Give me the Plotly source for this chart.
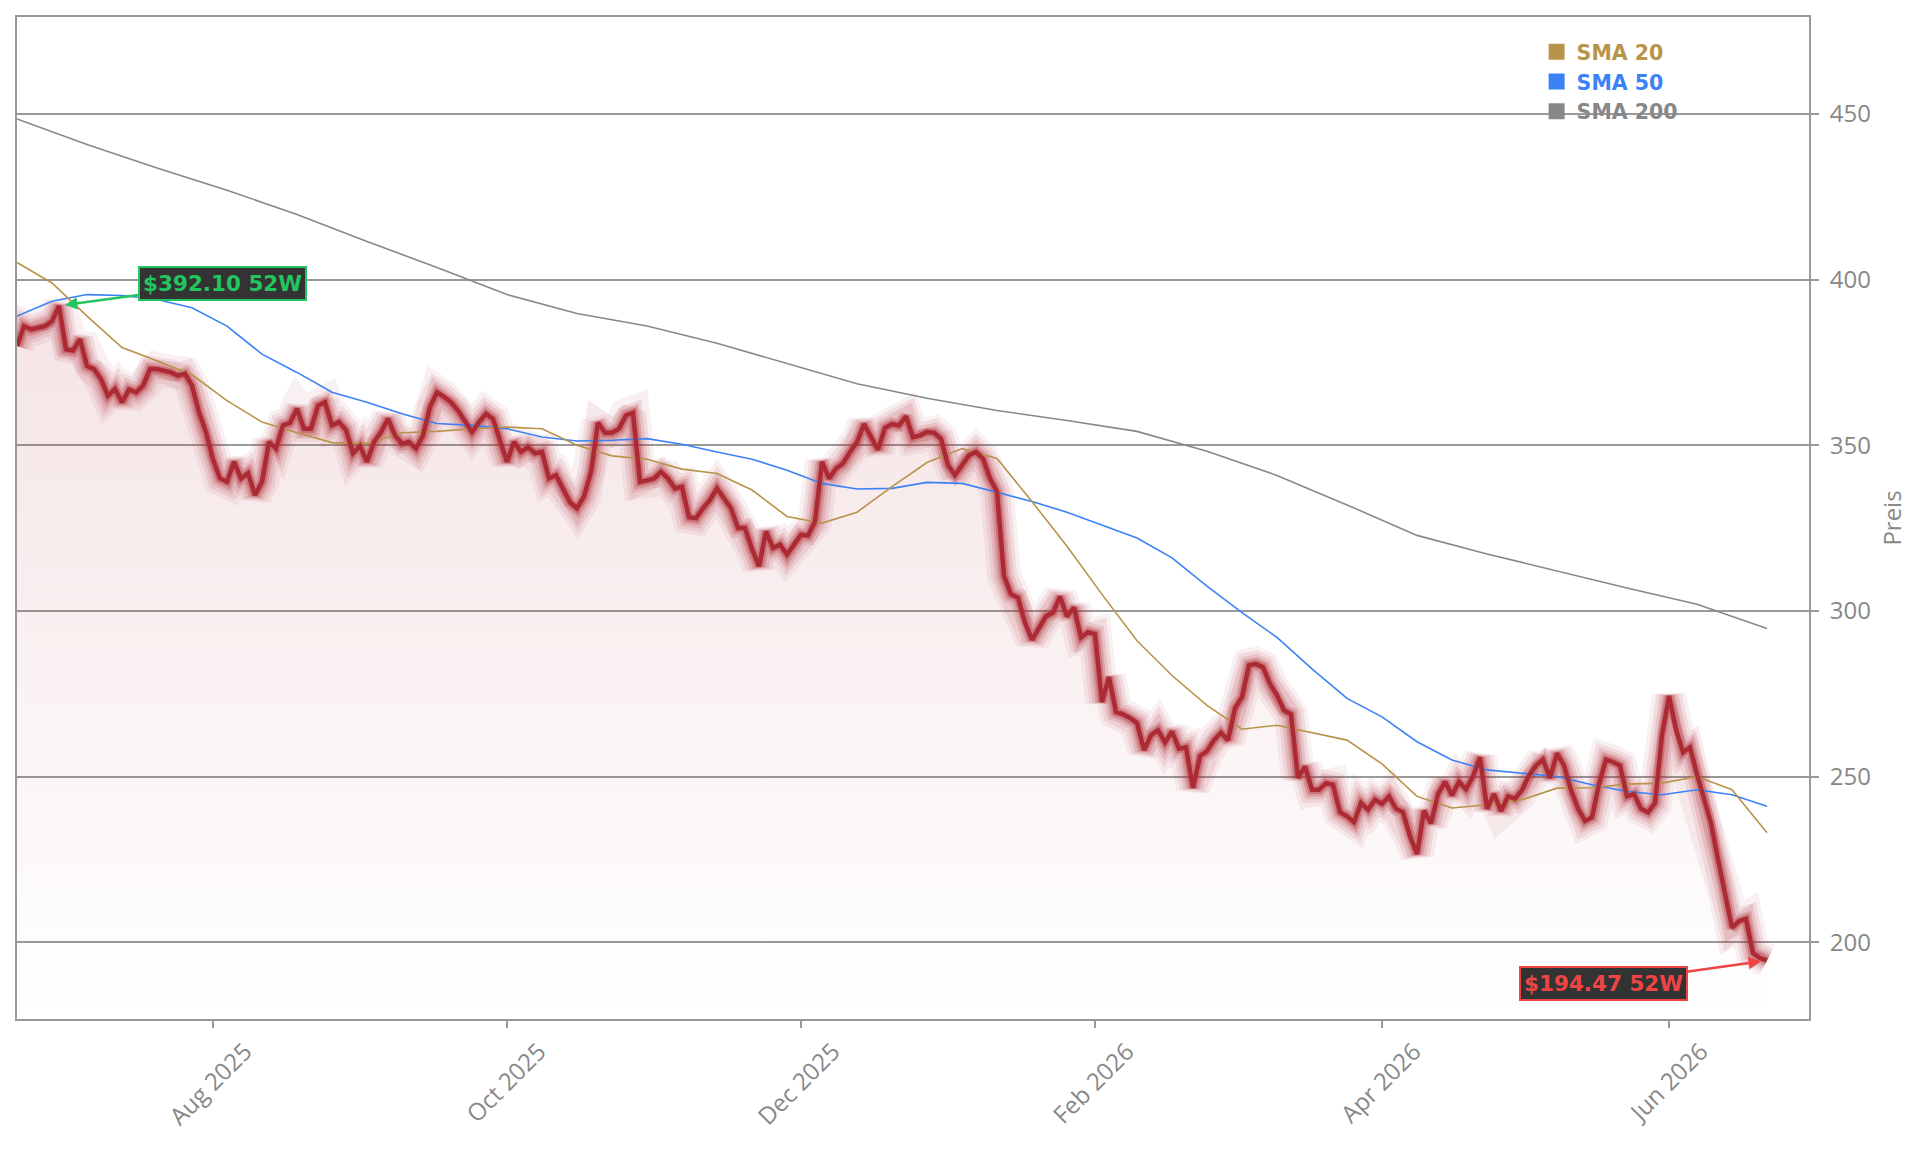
import pandas as pd
import plotly.graph_objects as go

# ---------------- data ----------------
START_DATE = "2025-06-23"
END_DATE = "2026-06-22"
AXIS_END = "2026-06-30"
HOLIDAYS = ["2025-07-04", "2025-09-01", "2025-11-27", "2025-12-25", "2026-01-01",
            "2026-01-19", "2026-02-16", "2026-04-03", "2026-05-25", "2026-06-19"]

PRICE = [
    380, 386, 385, 385.5, 386, 387.5, 392.1, 379, 378.6, 382,
    374, 373, 370, 365, 367, 363, 366.8, 366, 368, 373,
    373, 372.5, 372, 371, 371.6, 368, 360, 354, 345.7, 340,
    339, 345, 340, 341.6, 335, 339, 351, 349, 356, 356.8,
    361, 355, 355, 362, 363, 356, 357, 354.6, 347.6, 349.8,
    345, 351, 354, 358, 353, 350.5, 351, 349, 353, 361.6,
    366, 364.6, 363, 360.5, 357, 354, 357, 359.5, 358, 352,
    345, 351, 348, 349.4, 347.6, 348, 340, 341, 337, 332.8,
    331, 334.6, 342, 356.8, 353.8, 353.8, 355, 359, 359.8, 339,
    339.4, 340, 342, 340, 337, 337.5, 328.3, 328, 331, 333.5,
    337, 334, 331, 325, 325, 318.7, 313.5, 324, 319, 320,
    317, 320, 323, 322.8, 327, 345, 340, 343, 344.6, 348,
    351, 356.4, 352.7, 348.7, 355.3, 356.4, 356, 358.7, 352.4, 353,
    354, 353.8, 352, 344, 341, 344, 347, 348, 346, 340,
    336, 310.6, 305, 304, 296.5, 291.3, 295, 298.4, 299.5, 304.3,
    298.4, 301, 292, 293.6, 293, 272.5, 280, 269.5, 268.8, 267.7,
    266.2, 258, 262.5, 264, 260.3, 263.6, 258.4, 258.8, 246.6, 256.2,
    257.7, 261, 263.2, 261, 270.6, 274, 283.6, 284, 283, 278,
    274.5, 270, 268.8, 249.6, 253, 246, 246, 248, 247.5, 239.2,
    238, 236.2, 242, 240, 243, 241.8, 244, 240.3, 239.2, 232,
    226.6, 239.6, 235.9, 244.7, 248.4, 244.4, 248.4, 246.2, 250, 255.8,
    240.3, 244.7, 239.6, 244, 243.3, 245.9, 250.3, 253.3, 255.1, 249.6,
    257, 253.3, 245.9, 240.3, 236.6, 237.7, 247.7, 255.1, 254.4, 253.3,
    244, 244.7, 240.3, 239.2, 242, 262.5, 274.3, 264.3, 257.3, 258.8,
    250.7, 243.3, 235.9, 225, 215, 204.4, 206.3, 207, 196.7, 195.2,
    194.47,
]

# moving averages read every 5th / 10th trading day
SMA_STEP = 5
SMA20 = [405.2, 399, 389, 379.5, 375.5, 371.3, 363.5, 357, 353.8, 350.8,
         350.5, 353.8, 354.2, 355, 355.5, 355, 350, 346.8, 345.8, 342.8,
         341.5, 336.5, 328.5, 326.5, 329.8, 337.5, 344.8, 349, 346, 333,
         319.5, 305, 291, 280.5, 271.5, 264.3, 265.5, 263.2, 261, 253.8,
         244, 240.5, 241.5, 243, 246.5, 246.6, 247.7, 248, 250, 246,
         233]
SMA50 = [389, 393.5, 395.5, 395.2, 394, 391.5, 386, 377.5, 372, 366,
         363, 359.5, 356.6, 356, 355, 352.5, 351.3, 351.5, 352, 350.3,
         348, 345.8, 342.5, 338.5, 336.8, 337, 338.8, 338.5, 335.8, 333,
         329.8, 326, 322, 316, 307.5, 299.5, 292, 282.5, 273.6, 268,
         260.5, 255, 252, 251, 250, 247.5, 245.5, 244.5, 246, 244.5,
         241]
SMA200_STEP = 10
SMA200 = [448.5, 440.8, 433.7, 427, 419.7, 411.5, 403.7, 395.5, 389.8, 386,
          380.8, 374.6, 368.6, 364.2, 360.5, 357.5, 354.2, 348.2, 340.9, 332,
          322.8, 317.2, 312, 306.9, 302, 294.7]

TICK_DATES = ["2025-08-01", "2025-10-01", "2025-12-01", "2026-02-02", "2026-04-01", "2026-06-01"]
TICK_LABELS = ["Aug 2025", "Oct 2025", "Dec 2025", "Feb 2026", "Apr 2026", "Jun 2026"]
Y_TICKS = [200, 250, 300, 350, 400, 450]
Y_RANGE = [176.8, 479.3]

SERIES_NAMES = ["SMA 20", "SMA 50", "SMA 200"]
SERIES_COLORS = ["#b8934a", "#3b82f6", "#888888"]

# ---------------- build ----------------
DATES = [d for d in pd.bdate_range(START_DATE, END_DATE) if d.strftime("%Y-%m-%d") not in HOLIDAYS]
assert len(DATES) == len(PRICE), (len(DATES), len(PRICE))
D20 = DATES[::SMA_STEP]
D200 = DATES[::SMA200_STEP]

RED = "rgb(172,42,52)"
fig = go.Figure()

# gradient fill under price
fig.add_trace(go.Scatter(
    x=DATES, y=PRICE, mode="lines", line=dict(width=0), fill="tozeroy",
    fillgradient=dict(type="vertical",
                      colorscale=[[0, "rgba(176,44,54,0.0)"], [1, "rgba(176,44,54,0.13)"]],
                      start=Y_RANGE[0], stop=392),
    showlegend=False, hoverinfo="skip"))

# glow layers
for w, a in [(34, 0.07), (26, 0.10), (19, 0.15), (13, 0.22), (8.5, 0.34)]:
    fig.add_trace(go.Scatter(x=DATES, y=PRICE, mode="lines",
                             line=dict(width=w, color=f"rgba(176,44,54,{a})"),
                             showlegend=False, hoverinfo="skip"))

fig.add_trace(go.Scatter(x=D200, y=SMA200, mode="lines", line=dict(width=1.6, color=SERIES_COLORS[2]),
                         showlegend=False))
fig.add_trace(go.Scatter(x=D20, y=SMA50, mode="lines", line=dict(width=1.6, color=SERIES_COLORS[1]),
                         showlegend=False))
fig.add_trace(go.Scatter(x=D20, y=SMA20, mode="lines", line=dict(width=1.6, color=SERIES_COLORS[0]),
                         showlegend=False))

# core price line
fig.add_trace(go.Scatter(x=DATES, y=PRICE, mode="lines", line=dict(width=4.5, color=RED),
                         showlegend=False, name="Preis"))

# legend entries
for name, col in zip(SERIES_NAMES, SERIES_COLORS):
    fig.add_trace(go.Scatter(x=[None], y=[None], mode="markers",
                             marker=dict(symbol="square", size=16, color=col),
                             name=f'<span style="color:{col}"><b>{name}</b></span>'))

imax = max(range(len(PRICE)), key=lambda i: PRICE[i])
imin = min(range(len(PRICE)), key=lambda i: PRICE[i])

ann_common = dict(xref="x", yref="y", showarrow=True, arrowhead=2, arrowsize=1,
                  arrowwidth=2.5, standoff=6, bgcolor="#333333", borderwidth=2, borderpad=3)
fig.add_annotation(x=DATES[imax], y=PRICE[imax], text=f"<b>${PRICE[imax]:.2f} 52W</b>",
                   ax=163, ay=-22, arrowcolor="#22c55e", bordercolor="#22c55e",
                   font=dict(family="DejaVu Sans", size=21.5, color="#22c55e"), **ann_common)
fig.add_annotation(x=DATES[imin], y=PRICE[imin], text=f"<b>${PRICE[imin]:.2f} 52W</b>",
                   ax=-164, ay=23, arrowcolor="#ef4444", bordercolor="#ef4444",
                   font=dict(family="DejaVu Sans", size=21.5, color="#ef4444"), **ann_common)

fig.update_layout(
    width=1921, height=1151,
    margin=dict(l=17, r=112, t=17, b=132),
    paper_bgcolor="white", plot_bgcolor="white",
    font=dict(family="Open Sans", color="#888888"),
    showlegend=True,
    legend=dict(x=0.848, y=0.985, xanchor="left", yanchor="top", bgcolor="rgba(0,0,0,0)",
                font=dict(family="DejaVu Sans", size=20.5), tracegroupgap=0),
    xaxis=dict(type="date", range=[START_DATE, AXIS_END],
               rangebreaks=[dict(bounds=["sat", "mon"]), dict(values=HOLIDAYS)],
               tickvals=TICK_DATES, ticktext=TICK_LABELS, tickangle=-45,
               ticklabelshift=32, ticklabelstandoff=0,
               ticks="outside", ticklen=7, tickcolor="#999999", tickwidth=2,
               showgrid=False, zeroline=False, showline=True, linecolor="#999999",
               linewidth=2, mirror=True, tickfont=dict(size=24, color="#888888")),
    yaxis=dict(side="right", range=Y_RANGE, tickvals=Y_TICKS, ticks="outside", ticklen=8,
               tickcolor="#999999", tickwidth=2, showgrid=True, gridcolor="#999999", gridwidth=1.5,
               ticklabelstandoff=6,
               zeroline=False, showline=True, linecolor="#999999", linewidth=2, mirror=True,
               tickfont=dict(size=24, color="#888888"),
               title=dict(text="Preis", font=dict(size=24, color="#888888"), standoff=14)),
)

fig.write_html("out.html", config={"displayModeBar": False})
